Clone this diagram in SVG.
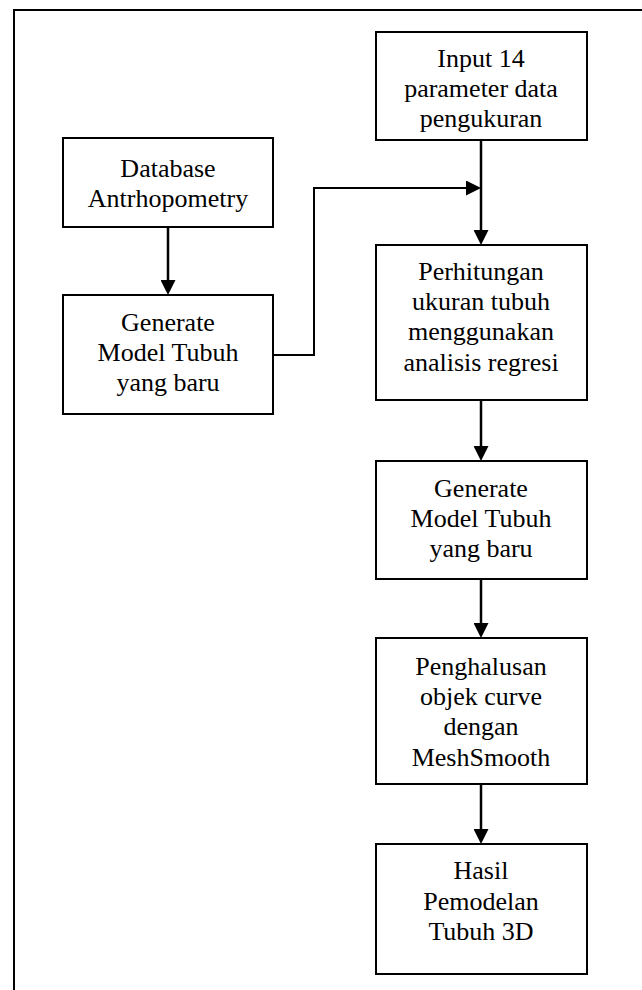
<svg xmlns="http://www.w3.org/2000/svg" width="642" height="990" viewBox="0 0 642 990">
<style>
.frame{fill:none;stroke:#000;stroke-width:2}
.box{fill:#fff;stroke:#000;stroke-width:2}
.t{font-family:"Liberation Serif","Times New Roman",serif;font-size:26px;fill:#000;text-anchor:middle}
.c{fill:none;stroke:#000;stroke-width:2.5}
.c2{fill:none;stroke:#000;stroke-width:2}
</style>
<defs>
<marker id="ah" markerUnits="userSpaceOnUse" markerWidth="15" markerHeight="15" refX="5" refY="7.5" orient="auto">
<path d="M0,0 L15,7.5 L0,15 Z" fill="#000"/>
</marker>
</defs>
<rect class="frame" x="14" y="10" width="700" height="1100"/>
<g id="connectors">
<line class="c" x1="168" y1="227" x2="168" y2="285" marker-end="url(#ah)"/>
<line class="c" x1="481" y1="140" x2="481" y2="235" marker-end="url(#ah)"/>
<path class="c2" d="M273,355 H314 V188 H471" marker-end="url(#ah)"/>
<line class="c" x1="481" y1="400" x2="481" y2="451" marker-end="url(#ah)"/>
<line class="c" x1="481" y1="579" x2="481" y2="628" marker-end="url(#ah)"/>
<line class="c" x1="481" y1="784" x2="481" y2="834" marker-end="url(#ah)"/>
</g>
<g id="database">
<rect class="box" x="63" y="138" width="210" height="89"/>
<text class="t" x="168" y="177">Database</text>
<text class="t" x="168" y="207">Antrhopometry</text>
</g>
<g id="generate-left">
<rect class="box" x="63" y="295" width="210" height="119"/>
<text class="t" x="168" y="331">Generate</text>
<text class="t" x="168" y="361">Model Tubuh</text>
<text class="t" x="168" y="391">yang baru</text>
</g>
<g id="input">
<rect class="box" x="376" y="32" width="211" height="108"/>
<text class="t" x="481" y="67">Input 14</text>
<text class="t" x="481" y="97">parameter data</text>
<text class="t" x="481" y="127">pengukuran</text>
</g>
<g id="perhitungan">
<rect class="box" x="376" y="245" width="211" height="155"/>
<text class="t" x="481" y="280">Perhitungan</text>
<text class="t" x="481" y="310">ukuran tubuh</text>
<text class="t" x="481" y="340">menggunakan</text>
<text class="t" x="481" y="371">analisis regresi</text>
</g>
<g id="generate-right">
<rect class="box" x="376" y="461" width="211" height="118"/>
<text class="t" x="481" y="497">Generate</text>
<text class="t" x="481" y="527">Model Tubuh</text>
<text class="t" x="481" y="557">yang baru</text>
</g>
<g id="penghalusan">
<rect class="box" x="376" y="638" width="211" height="146"/>
<text class="t" x="481" y="675">Penghalusan</text>
<text class="t" x="481" y="705">objek curve</text>
<text class="t" x="481" y="735">dengan</text>
<text class="t" x="481" y="766">MeshSmooth</text>
</g>
<g id="hasil">
<rect class="box" x="376" y="844" width="211" height="130"/>
<text class="t" x="481" y="879">Hasil</text>
<text class="t" x="481" y="910">Pemodelan</text>
<text class="t" x="481" y="940">Tubuh 3D</text>
</g>
</svg>
